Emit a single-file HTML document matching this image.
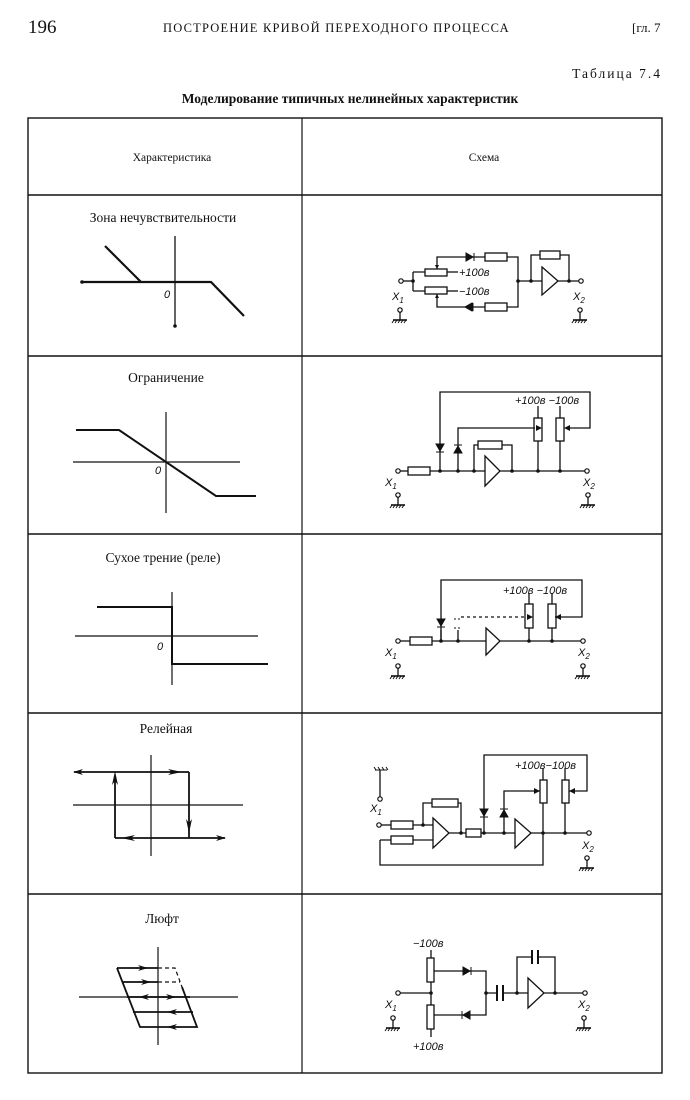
<!DOCTYPE html>
<html><head><meta charset="utf-8"><style>
html,body{margin:0;padding:0;background:#fff}
svg{display:block}
text{font-family:"Liberation Serif",serif;fill:#111}
.it{font-style:italic;font-family:"Liberation Sans",sans-serif;font-size:11px}
</style></head><body>
<svg width="690" height="1100" viewBox="0 0 690 1100" xmlns="http://www.w3.org/2000/svg">
<defs>
<marker id="ar" markerWidth="10" markerHeight="6" refX="9" refY="3" orient="auto" markerUnits="userSpaceOnUse"><path d="M0,0 L10,3 L0,6 L3,3z" fill="#111"/></marker>
<marker id="am" markerWidth="14" markerHeight="6" refX="7" refY="3" orient="auto" markerUnits="userSpaceOnUse"><path d="M0,0 L14,3 L0,6 L4,3z" fill="#111"/></marker>
<g id="gnd"><line x1="0" y1="0" x2="0" y2="8" stroke="#111" stroke-width="1.3"/><line x1="-7" y1="8" x2="7" y2="8" stroke="#111" stroke-width="1.6"/><path d="M-6,8 l-2,3 M-3,8 l-2,3 M0,8 l-2,3 M3,8 l-2,3 M6,8 l-2,3" stroke="#111" stroke-width="1"/><circle cx="0" cy="-2" r="2.2" fill="#fff" stroke="#111" stroke-width="1.2"/></g>
</defs>
<!-- header -->
<text x="28" y="33" font-size="19">196</text>
<text x="163" y="32" font-size="12.5" letter-spacing="1.2">ПОСТРОЕНИЕ КРИВОЙ ПЕРЕХОДНОГО ПРОЦЕССА</text>
<text x="632" y="32" font-size="13">[гл. 7</text>
<text x="662" y="78" font-size="13.5" text-anchor="end" letter-spacing="2">Таблица 7.4</text>
<text x="350" y="103" font-size="13.5" font-weight="bold" text-anchor="middle">Моделирование типичных нелинейных характеристик</text>
<!-- table -->
<g stroke="#111" fill="none">
<rect x="28" y="118" width="634" height="955" stroke-width="1.4"/>
<line x1="302" y1="118" x2="302" y2="1073" stroke-width="1.2"/>
<line x1="28" y1="195" x2="662" y2="195" stroke-width="1.4"/>
<line x1="28" y1="356" x2="662" y2="356" stroke-width="1.4"/>
<line x1="28" y1="534" x2="662" y2="534" stroke-width="1.4"/>
<line x1="28" y1="713" x2="662" y2="713" stroke-width="1.4"/>
<line x1="28" y1="894" x2="662" y2="894" stroke-width="1.4"/>
</g>
<text x="172" y="161" font-size="11.5" text-anchor="middle">Характеристика</text>
<text x="484" y="161" font-size="11.5" text-anchor="middle">Схема</text>

<!-- ROW 1 -->
<text x="163" y="222" font-size="13.5" text-anchor="middle">Зона нечувствительности</text>
<g stroke="#111" fill="none">
<line x1="175" y1="236" x2="175" y2="327" stroke-width="1.3"/>
<polyline points="82,282 141,282 211,282 244,316" stroke-width="2.2"/>
<line x1="105" y1="246" x2="141" y2="282" stroke-width="2.2"/>
</g>
<circle cx="82" cy="282" r="1.8" fill="#111"/><circle cx="175" cy="326" r="1.8" fill="#111"/>
<text x="164" y="298" class="it">0</text>
<g stroke="#111" fill="none" stroke-width="1.3">
<line x1="403" y1="281" x2="413" y2="281"/>
<path d="M413,272 V291 M413,272 H425 M413,291 H425"/>
<rect x="425" y="269" width="22" height="7"/>
<rect x="425" y="287" width="22" height="7"/>
<line x1="447" y1="272" x2="458" y2="272"/><line x1="447" y1="291" x2="458" y2="291"/>
<path d="M437,269 V257 H485 M507,257 H518 V307 H507 M485,307 H437 V294"/>
<rect x="485" y="253" width="22" height="8"/>
<rect x="485" y="303" width="22" height="8"/>
<line x1="518" y1="281" x2="542" y2="281"/>
<path d="M531,281 V255 H540 M560,255 H569 V281"/>
<rect x="540" y="251" width="20" height="8"/>
<path d="M542,267 L558,281 L542,295 Z"/>
<line x1="558" y1="281" x2="579" y2="281"/>
</g>
<path d="M466,253 V261 L473,257 Z M474,253 V261" fill="#111" stroke="#111"/>
<path d="M473,303 V311 L466,307 Z M474,303 V311" fill="#111" stroke="#111" transform="translate(-1,0)"/>
<path d="M437,269 l-2,-4 h4z M437,294 l-2,4 h4z" fill="#111"/>
<g fill="#111"><circle cx="413" cy="281" r="1.8"/><circle cx="518" cy="281" r="1.8"/><circle cx="531" cy="281" r="1.8"/><circle cx="569" cy="281" r="1.8"/></g>
<circle cx="401" cy="281" r="2.2" fill="#fff" stroke="#111" stroke-width="1.2"/>
<circle cx="581" cy="281" r="2.2" fill="#fff" stroke="#111" stroke-width="1.2"/>
<text x="459" y="276" class="it">+100в</text><text x="459" y="295" class="it">−100в</text>
<text x="392" y="300" class="it">X<tspan font-size="8" dy="3">1</tspan></text>
<text x="573" y="300" class="it">X<tspan font-size="8" dy="3">2</tspan></text>
<use href="#gnd" x="400" y="312"/><use href="#gnd" x="580" y="312"/>

<!-- ROW 2 -->
<text x="166" y="382" font-size="13.5" text-anchor="middle">Ограничение</text>
<g stroke="#111" fill="none">
<line x1="166" y1="412" x2="166" y2="513" stroke-width="1.2"/>
<line x1="73" y1="462" x2="240" y2="462" stroke-width="1.2"/>
<polyline points="76,430 119,430 216,496 256,496" stroke-width="2"/>
</g>
<text x="155" y="474" class="it">0</text>
<g stroke="#111" fill="none" stroke-width="1.3">
<line x1="400" y1="471" x2="408" y2="471"/><rect x="408" y="467" width="22" height="8"/>
<line x1="430" y1="471" x2="585" y2="471"/>
<path d="M440,471 V392 H590 V428 H566"/>
<path d="M458,471 V428 H535"/>
<path d="M474,471 V445 H478 M502,445 H512 V471"/><rect x="478" y="441" width="24" height="8"/>
<path d="M485,456 L500,471 L485,486 Z" fill="#fff"/>
<rect x="534" y="418" width="8" height="23"/><rect x="556" y="418" width="8" height="23"/>
<path d="M538,418 V406 M560,418 V406 M538,441 V471 M560,441 V471"/>
</g>
<path d="M436,444 H444 L440,451 Z M436,452 H444" fill="#111" stroke="#111"/>
<path d="M454,453 H462 L458,446 Z M454,445 H462" fill="#111" stroke="#111"/>
<path d="M542,428 l-6,-3 v6z M564,428 l6,-3 v6z" fill="#111"/>
<g fill="#111"><circle cx="440" cy="471" r="1.8"/><circle cx="458" cy="471" r="1.8"/><circle cx="474" cy="471" r="1.8"/><circle cx="512" cy="471" r="1.8"/><circle cx="538" cy="471" r="1.8"/><circle cx="560" cy="471" r="1.8"/></g>
<circle cx="398" cy="471" r="2.2" fill="#fff" stroke="#111" stroke-width="1.2"/>
<circle cx="587" cy="471" r="2.2" fill="#fff" stroke="#111" stroke-width="1.2"/>
<text x="515" y="404" class="it">+100в −100в</text>
<text x="385" y="486" class="it">X<tspan font-size="8" dy="3">1</tspan></text>
<text x="583" y="486" class="it">X<tspan font-size="8" dy="3">2</tspan></text>
<use href="#gnd" x="398" y="497"/><use href="#gnd" x="588" y="497"/>

<!-- ROW 3 -->
<text x="163" y="562" font-size="13.5" text-anchor="middle">Сухое трение (реле)</text>
<g stroke="#111" fill="none">
<line x1="172" y1="592" x2="172" y2="685" stroke-width="1.2"/>
<line x1="75" y1="636" x2="258" y2="636" stroke-width="1.2"/>
<polyline points="97,607 172,607 172,664 268,664" stroke-width="2"/>
</g>
<text x="157" y="650" class="it">0</text>
<g stroke="#111" fill="none" stroke-width="1.3">
<line x1="400" y1="641" x2="410" y2="641"/><rect x="410" y="637" width="22" height="8"/>
<line x1="432" y1="641" x2="486" y2="641"/><line x1="500" y1="641" x2="581" y2="641"/>
<path d="M441,641 V580 H582 V617 H555"/>
<path d="M441,641 V630"/>
<path d="M458,641 V630"/>
<path d="M461,617 H527" stroke-dasharray="3,3"/>
<path d="M486,628 L500,641 L486,655 Z"/>
<rect x="525" y="604" width="8" height="24"/><rect x="548" y="604" width="8" height="24"/>
<path d="M529,604 V593 M552,604 V593 M529,628 V641 M552,628 V641"/>
</g>
<path d="M437,619 H445 L441,626 Z M437,627 H445" fill="#111" stroke="#111"/>
<path d="M454,619 H462 M454,628 H462" stroke="#111" stroke-dasharray="2,2" fill="none"/>
<path d="M533,617 l-6,-3 v6z M555,617 l6,-3 v6z" fill="#111"/>
<g fill="#111"><circle cx="441" cy="641" r="1.8"/><circle cx="458" cy="641" r="1.8"/><circle cx="529" cy="641" r="1.8"/><circle cx="552" cy="641" r="1.8"/></g>
<circle cx="398" cy="641" r="2.2" fill="#fff" stroke="#111" stroke-width="1.2"/>
<circle cx="583" cy="641" r="2.2" fill="#fff" stroke="#111" stroke-width="1.2"/>
<text x="503" y="594" class="it">+100в −100в</text>
<text x="385" y="656" class="it">X<tspan font-size="8" dy="3">1</tspan></text>
<text x="578" y="656" class="it">X<tspan font-size="8" dy="3">2</tspan></text>
<use href="#gnd" x="398" y="668"/><use href="#gnd" x="583" y="668"/>

<!-- ROW 4 -->
<text x="166" y="733" font-size="13.5" text-anchor="middle">Релейная</text>
<g stroke="#111" fill="none">
<line x1="151" y1="755" x2="151" y2="856" stroke-width="1.2"/>
<line x1="73" y1="805" x2="243" y2="805" stroke-width="1.2"/>
<g stroke-width="1.8">
<line x1="115" y1="772" x2="74" y2="772" marker-end="url(#ar)"/>
<line x1="115" y1="772" x2="175" y2="772" marker-end="url(#am)"/>
<line x1="170" y1="772" x2="189" y2="772"/>
<line x1="189" y1="772" x2="189" y2="826" marker-end="url(#am)"/>
<line x1="189" y1="822" x2="189" y2="838"/>
<line x1="189" y1="838" x2="225" y2="838" marker-end="url(#ar)"/>
<line x1="189" y1="838" x2="128" y2="838" marker-end="url(#am)"/>
<line x1="132" y1="838" x2="115" y2="838"/>
<line x1="115" y1="838" x2="115" y2="778" marker-end="url(#am)"/>
</g></g>
<g stroke="#111" fill="none" stroke-width="1.3">
<path d="M375,770 H387 M376,770 l-2,-3 M380,770 l-2,-3 M384,770 l-2,-3 M388,770 l-2,-3" stroke-width="1"/>
<line x1="380" y1="770" x2="380" y2="797"/>
<line x1="381" y1="825" x2="391" y2="825"/><rect x="391" y="821" width="22" height="8"/>
<line x1="413" y1="825" x2="433" y2="825"/>
<path d="M380,840 H391 M413,840 H433"/><rect x="391" y="836" width="22" height="8"/>
<path d="M380,840 V865 H543 V833"/>
<path d="M423,825 V803 H432 M458,803 H461 V833"/><rect x="432" y="799" width="26" height="8"/>
<path d="M433,818 L449,833 L433,848 Z"/>
<path d="M449,833 H466 M481,833 H515"/><rect x="466" y="829" width="15" height="8"/>
<path d="M484,833 V755 H587 V791 H569"/>
<path d="M504,833 V791 H540"/>
<path d="M515,819 L531,833 L515,848 Z"/>
<path d="M531,833 H587"/>
<rect x="540" y="780" width="7" height="23"/><rect x="562" y="780" width="7" height="23"/>
<path d="M543,780 V768 M565,780 V768 M543,803 V833 M565,803 V833"/>
</g>
<path d="M480,809 H488 L484,816 Z M480,817 H488" fill="#111" stroke="#111"/>
<path d="M500,817 H508 L504,810 Z M500,809 H508" fill="#111" stroke="#111"/>
<path d="M540,791 l-6,-3 v6z M569,791 l6,-3 v6z" fill="#111"/>
<g fill="#111"><circle cx="423" cy="825" r="1.8"/><circle cx="461" cy="833" r="1.8"/><circle cx="484" cy="833" r="1.8"/><circle cx="504" cy="833" r="1.8"/><circle cx="543" cy="833" r="1.8"/><circle cx="565" cy="833" r="1.8"/></g>
<circle cx="380" cy="799" r="2.2" fill="#fff" stroke="#111" stroke-width="1.2"/>
<circle cx="379" cy="825" r="2.2" fill="#fff" stroke="#111" stroke-width="1.2"/>
<circle cx="589" cy="833" r="2.2" fill="#fff" stroke="#111" stroke-width="1.2"/>
<text x="515" y="769" class="it">+100в−100в</text>
<text x="370" y="812" class="it">X<tspan font-size="8" dy="3">1</tspan></text>
<text x="582" y="849" class="it">X<tspan font-size="8" dy="3">2</tspan></text>
<use href="#gnd" x="587" y="860"/>

<!-- ROW 5 -->
<text x="162" y="923" font-size="13.5" text-anchor="middle">Люфт</text>
<g stroke="#111" fill="none">
<line x1="158" y1="947" x2="158" y2="1045" stroke-width="1.2"/>
<line x1="79" y1="997" x2="238" y2="997" stroke-width="1.2"/>
<g stroke-width="1.8">
<path d="M117,968 H158 M117,968 L140,1027 H197 L182,987"/>
<path d="M122,982 H158 M127,997 H190 M133,1012 H193"/>
</g>
<path d="M158,968 H175 L182,987 M158,982 H180" stroke-width="1.2" stroke-dasharray="4,3"/>
<g stroke-width="1.2">
<line x1="135" y1="968" x2="147" y2="968" marker-end="url(#ar)"/>
<line x1="138" y1="982" x2="150" y2="982" marker-end="url(#ar)"/>
<line x1="152" y1="997" x2="140" y2="997" marker-end="url(#ar)"/>
<line x1="162" y1="997" x2="175" y2="997" marker-end="url(#ar)"/>
<line x1="180" y1="1012" x2="168" y2="1012" marker-end="url(#ar)"/>
<line x1="180" y1="1027" x2="168" y2="1027" marker-end="url(#ar)"/>
</g></g>
<g stroke="#111" fill="none" stroke-width="1.3">
<rect x="427" y="958" width="7" height="24"/><rect x="427" y="1005" width="7" height="24"/>
<path d="M431,958 V950 M431,1029 V1037 M431,982 V1005 M400,993 H431"/>
<path d="M434,971 H486 V1015 H434"/>
<path d="M486,993 H497 M503,993 H528"/>
<path d="M497,985 V1001 M503,985 V1001" stroke-width="2"/>
<path d="M517,993 V957 H532 M538,957 H555 V993"/>
<path d="M532,950 V964 M538,950 V964" stroke-width="2"/>
<path d="M528,978 L544,993 L528,1008 Z"/>
<path d="M544,993 H583"/>
</g>
<path d="M463,967 V975 L470,971 Z M471,967 V975" fill="#111" stroke="#111"/>
<path d="M470,1011 V1019 L463,1015 Z M462,1011 V1019" fill="#111" stroke="#111"/>
<g fill="#111"><circle cx="431" cy="993" r="1.8"/><circle cx="486" cy="993" r="1.8"/><circle cx="517" cy="993" r="1.8"/><circle cx="555" cy="993" r="1.8"/></g>
<circle cx="398" cy="993" r="2.2" fill="#fff" stroke="#111" stroke-width="1.2"/>
<circle cx="585" cy="993" r="2.2" fill="#fff" stroke="#111" stroke-width="1.2"/>
<text x="413" y="947" class="it">−100в</text>
<text x="413" y="1050" class="it">+100в</text>
<text x="385" y="1008" class="it">X<tspan font-size="8" dy="3">1</tspan></text>
<text x="578" y="1008" class="it">X<tspan font-size="8" dy="3">2</tspan></text>
<use href="#gnd" x="393" y="1020"/><use href="#gnd" x="584" y="1020"/>
</svg>
</body></html>
